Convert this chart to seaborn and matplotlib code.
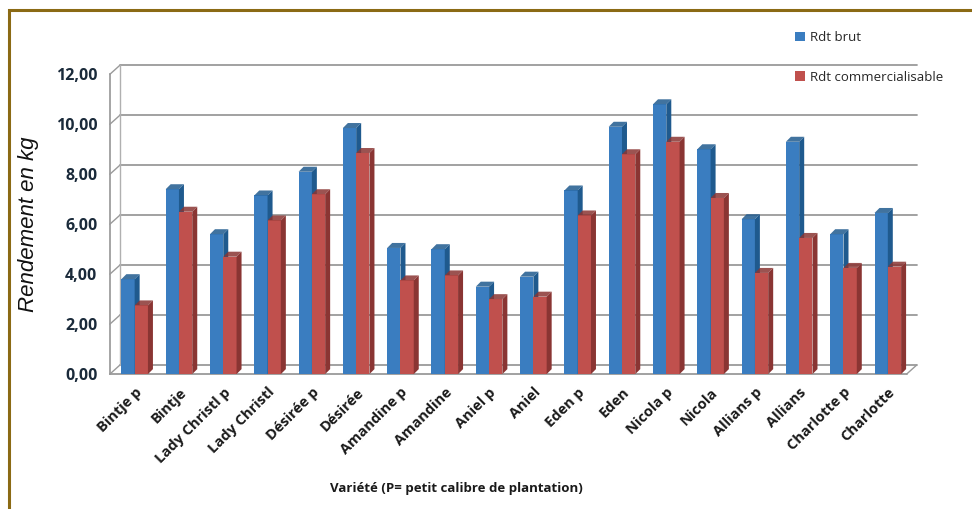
import numpy as np
import pandas as pd
import seaborn as sns
import matplotlib
matplotlib.use("Agg")
import matplotlib.pyplot as plt
from matplotlib.patches import Polygon, Rectangle

varietes = ["Bintje p", "Bintje", "Lady Christl p", "Lady Christl", "Désirée p", "Désirée",
            "Amandine p", "Amandine", "Aniel p", "Aniel", "Eden p", "Eden",
            "Nicola p", "Nicola", "Allians p", "Allians", "Charlotte p", "Charlotte"]
rdt_brut = [3.8, 7.4, 5.6, 7.15, 8.1, 9.85, 5.05, 5.0, 3.5, 3.9, 7.35, 9.9,
            10.8, 9.0, 6.2, 9.3, 5.6, 6.45]
rdt_comm = [2.75, 6.5, 4.7, 6.15, 7.2, 8.85, 3.75, 3.95, 3.0, 3.1, 6.35, 8.8,
            9.3, 7.05, 4.05, 5.45, 4.25, 4.3]
series = ["Rdt brut", "Rdt commercialisable"]
yticks = [0, 2, 4, 6, 8, 10, 12]
ytick_labels = ["0,00", "2,00", "4,00", "6,00", "8,00", "10,00", "12,00"]

face = {"Rdt brut": "#3A7DC0", "Rdt commercialisable": "#C0504D"}
side = {"Rdt brut": "#1F5A8E", "Rdt commercialisable": "#8A3533"}

df = pd.DataFrame({
    "Variété": varietes * 2,
    "Rendement": rdt_brut + rdt_comm,
    "Série": [series[0]] * len(varietes) + [series[1]] * len(varietes),
})

sns.set_theme(style="white")
plt.rcParams["font.family"] = ["Open Sans", "DejaVu Sans"]

fig = plt.figure(figsize=(9.72, 5.09), dpi=100)
ax = fig.add_axes([0.113, 0.265, 0.83, 0.589])

sns.barplot(data=df, x="Variété", y="Rendement", hue="Série", palette=face,
            width=0.6, gap=0, ax=ax, legend=False, saturation=1, errorbar=None)

ax.set_xlim(-0.56, 17.65)
ax.set_ylim(0, 12)

fig.canvas.draw()
px_x = (ax.get_xlim()[1] - ax.get_xlim()[0]) / ax.get_window_extent().width
px_y = (ax.get_ylim()[1] - ax.get_ylim()[0]) / ax.get_window_extent().height
dx, dy = 5 * px_x, 5 * px_y

n = len(varietes)
for i, p in enumerate(ax.patches[:2 * n]):
    s = series[0] if i < n else series[1]
    z = 2 if i < n else 4
    p.set_zorder(z)
    p.set_edgecolor("none")
    x0, w, h = p.get_x(), p.get_width(), p.get_height()
    x1 = x0 + w
    ax.add_patch(Polygon([(x1, 0), (x1 + dx, dy), (x1 + dx, h + dy), (x1, h)],
                         closed=True, facecolor=side[s], edgecolor="none", zorder=z))
    ax.add_patch(Polygon([(x0, h), (x1, h), (x1 + dx, h + dy), (x0 + dx, h + dy)],
                         closed=True, facecolor=side[s], edgecolor="none", zorder=z, alpha=0.85))

gdx, gdy = 10 * px_x, 9 * px_y
x_left, x_right = ax.get_xlim()
for t in yticks:
    ax.plot([x_left + gdx, x_right], [t + gdy, t + gdy], color="#9a9a9a", lw=1.3, zorder=1, clip_on=False)
    ax.plot([x_left, x_left + gdx], [t, t + gdy], color="#9a9a9a", lw=1.0, zorder=1, clip_on=False)
ax.plot([x_left + gdx, x_left + gdx], [gdy, 12 + gdy], color="#b0b0b0", lw=1.0, zorder=1, clip_on=False)
ax.plot([x_left, x_right - gdx], [0, 0], color="#9a9a9a", lw=1.3, zorder=1, clip_on=False)
ax.plot([x_right - gdx, x_right], [0, gdy], color="#9a9a9a", lw=1.0, zorder=1, clip_on=False)

for sp in ax.spines.values():
    sp.set_visible(False)
ax.spines["left"].set_visible(True)
ax.spines["left"].set_color("#9a9a9a")

ax.set_yticks(yticks)
ax.set_yticklabels(ytick_labels, fontsize=11.5, fontweight="bold", color="#1a2a3a")
ax.tick_params(axis="y", length=4, color="#9a9a9a", pad=5)
ax.tick_params(axis="x", length=0, pad=8)
ax.set_xticks(range(n))
ax.set_xticklabels(varietes, rotation=45, ha="right", rotation_mode="anchor",
                   fontsize=10.5, fontweight="bold", color="#1a1a1a")

ax.set_ylabel("Rendement en kg", fontsize=16, style="italic",
              family=["Liberation Sans", "DejaVu Sans"], color="#111111", labelpad=12)
ax.set_xlabel("Variété (P= petit calibre de plantation)", fontsize=9.5,
              fontweight="bold", color="#1a1a1a")
ax.xaxis.set_label_coords(0.43, -0.36)

handles = [Rectangle((0, 0), 1, 1, facecolor=face[s], edgecolor="none") for s in series]
fig.legend(handles, series, loc="upper left", bbox_to_anchor=(0.806, 0.962),
           frameon=False, fontsize=9.5, handlelength=0.7, handleheight=0.7,
           handletextpad=0.4, labelspacing=2.0)

fig.add_artist(Rectangle((0.009, -0.05), 1.1, 1.03, transform=fig.transFigure,
                         fill=False, edgecolor="#8B6A14", lw=2.2, clip_on=False))

fig.savefig("out.png", dpi=100)
